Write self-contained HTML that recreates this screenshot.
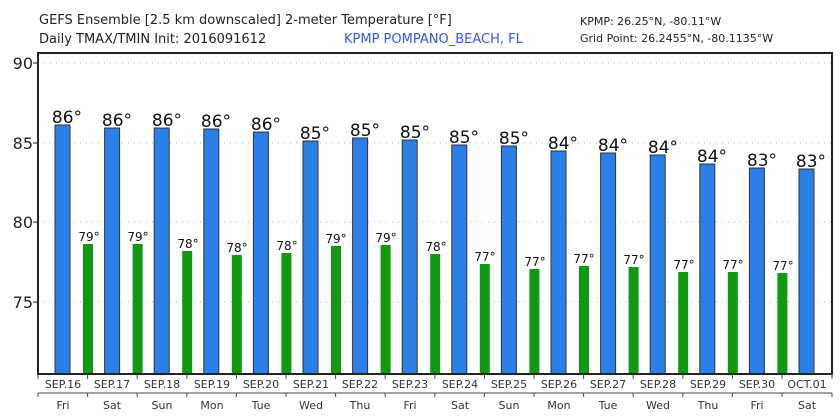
<!DOCTYPE html><html><head><style>body{margin:0;background:#fff}svg{display:block;font-family:"DejaVu Sans","Liberation Sans",sans-serif}</style></head><body>
<svg width="840" height="420" xmlns="http://www.w3.org/2000/svg">
<text x="39" y="24" font-size="13" fill="#222">GEFS Ensemble [2.5 km downscaled] 2-meter Temperature [°F]</text>
<text x="39" y="43" font-size="13" fill="#222">Daily TMAX/TMIN Init: 2016091612</text>
<text x="344" y="43" font-size="13" fill="#3355ff">KPMP POMPANO_BEACH, FL</text>
<text x="580" y="25" font-size="11" fill="#222">KPMP: 26.25°N, -80.11°W</text>
<text x="580" y="42" font-size="11" fill="#222">Grid Point: 26.2455°N, -80.1135°W</text>
<g stroke="#aaa" stroke-dasharray="1,5" stroke-width="1">
<line x1="38" x2="832" y1="63" y2="63"/><line x1="38" x2="832" y1="143" y2="143"/><line x1="38" x2="832" y1="222" y2="222"/><line x1="38" x2="832" y1="302" y2="302"/></g>
<g font-size="16" fill="#222" text-anchor="end"><text x="33" y="69">90</text><text x="33" y="149">85</text><text x="33" y="228">80</text><text x="33" y="308">75</text></g>
<g stroke="#222"><line x1="33" x2="38" y1="63" y2="63"/><line x1="33" x2="38" y1="143" y2="143"/><line x1="33" x2="38" y1="222" y2="222"/><line x1="33" x2="38" y1="302" y2="302"/></g>
<g fill="#2b7fe8" stroke="#333" stroke-width="1">
<rect x="55" y="125" width="15" height="249"/><rect x="104.6" y="128" width="15" height="246"/><rect x="154.2" y="128" width="15" height="246"/><rect x="203.8" y="129" width="15" height="245"/><rect x="253.4" y="132" width="15" height="242"/><rect x="303" y="141" width="15" height="233"/><rect x="352.6" y="138" width="15" height="236"/><rect x="402.2" y="140" width="15" height="234"/><rect x="451.8" y="145" width="15" height="229"/><rect x="501.4" y="146" width="15" height="228"/><rect x="551" y="151" width="15" height="223"/><rect x="600.6" y="153" width="15" height="221"/><rect x="650.2" y="155" width="15" height="219"/><rect x="699.8" y="164" width="15" height="210"/><rect x="749.4" y="168" width="15" height="206"/><rect x="799" y="169" width="15" height="205"/></g>
<g fill="#119911">
<rect x="83" y="244" width="10" height="130"/><rect x="132.6" y="244" width="10" height="130"/><rect x="182.2" y="251" width="10" height="123"/><rect x="231.8" y="255" width="10" height="119"/><rect x="281.4" y="253" width="10" height="121"/><rect x="331" y="246" width="10" height="128"/><rect x="380.6" y="245" width="10" height="129"/><rect x="430.2" y="254" width="10" height="120"/><rect x="479.8" y="264" width="10" height="110"/><rect x="529.4" y="269" width="10" height="105"/><rect x="579" y="266" width="10" height="108"/><rect x="628.6" y="267" width="10" height="107"/><rect x="678.2" y="272" width="10" height="102"/><rect x="727.8" y="272" width="10" height="102"/><rect x="777.4" y="273" width="10" height="101"/></g>
<g font-size="17" fill="#111" text-anchor="middle">
<text x="67" y="123">86°</text><text x="117" y="126">86°</text><text x="167" y="126">86°</text><text x="216" y="127">86°</text><text x="266" y="130">86°</text><text x="315" y="139">85°</text><text x="365" y="136">85°</text><text x="415" y="138">85°</text><text x="464" y="143">85°</text><text x="514" y="144">85°</text><text x="563" y="149">84°</text><text x="613" y="151">84°</text><text x="663" y="153">84°</text><text x="712" y="162">84°</text><text x="762" y="166">83°</text><text x="811" y="167">83°</text></g>
<g font-size="12" fill="#111" text-anchor="middle">
<text x="89" y="241">79°</text><text x="138" y="241">79°</text><text x="188" y="248">78°</text><text x="237" y="252">78°</text><text x="287" y="250">78°</text><text x="336" y="243">79°</text><text x="386" y="242">79°</text><text x="436" y="251">78°</text><text x="485" y="261">77°</text><text x="535" y="266">77°</text><text x="584" y="263">77°</text><text x="634" y="264">77°</text><text x="684" y="269">77°</text><text x="733" y="269">77°</text><text x="783" y="270">77°</text></g>
<rect x="38" y="53" width="794" height="321" fill="none" stroke="#222" stroke-width="2"/>
<line x1="38" x2="832" y1="393" y2="393" stroke="#444"/>
<g stroke="#444">
<path d="M38 374v5M87.6 374v5M137.2 374v5M186.8 374v5M236.4 374v5M286 374v5M335.6 374v5M385.2 374v5M434.8 374v5M484.4 374v5M534 374v5M583.6 374v5M633.2 374v5M682.8 374v5M732.4 374v5M782 374v5M832 374v5"/>
<path d="M38 393v4M87.6 393v4M137.2 393v4M186.8 393v4M236.4 393v4M286 393v4M335.6 393v4M385.2 393v4M434.8 393v4M484.4 393v4M534 393v4M583.6 393v4M633.2 393v4M682.8 393v4M732.4 393v4M782 393v4M832 393v4"/></g>
<g font-size="11" fill="#333" text-anchor="middle">
<text x="63" y="388">SEP.16</text><text x="112" y="388">SEP.17</text><text x="162" y="388">SEP.18</text><text x="212" y="388">SEP.19</text><text x="261" y="388">SEP.20</text><text x="311" y="388">SEP.21</text><text x="360" y="388">SEP.22</text><text x="410" y="388">SEP.23</text><text x="460" y="388">SEP.24</text><text x="509" y="388">SEP.25</text><text x="559" y="388">SEP.26</text><text x="608" y="388">SEP.27</text><text x="658" y="388">SEP.28</text><text x="708" y="388">SEP.29</text><text x="757" y="388">SEP.30</text><text x="807" y="388">OCT.01</text>
<text x="63" y="409">Fri</text><text x="112" y="409">Sat</text><text x="162" y="409">Sun</text><text x="212" y="409">Mon</text><text x="261" y="409">Tue</text><text x="311" y="409">Wed</text><text x="360" y="409">Thu</text><text x="410" y="409">Fri</text><text x="460" y="409">Sat</text><text x="509" y="409">Sun</text><text x="559" y="409">Mon</text><text x="608" y="409">Tue</text><text x="658" y="409">Wed</text><text x="708" y="409">Thu</text><text x="757" y="409">Fri</text><text x="807" y="409">Sat</text></g>
</svg></body></html>
